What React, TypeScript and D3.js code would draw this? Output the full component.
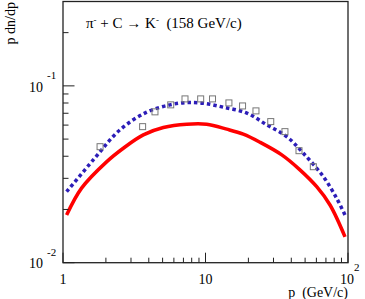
import { useMemo } from "react"
import * as d3 from "d3"

// red solid curve
const redP = [1.06, 1.35, 2.03, 2.65, 3.66, 5.06, 7.38, 10.2, 14.1, 18.4, 24.1, 34.3, 46.0, 60.3, 74.8, 95.3]
const redY = [0.0186, 0.0264, 0.0373, 0.0444, 0.0528, 0.0581, 0.0607, 0.0607, 0.0569, 0.0533, 0.048, 0.0407, 0.0335, 0.0269, 0.0212, 0.014]

// blue dotted curve
const blueP = [1.06, 1.63, 2.51, 3.87, 5.63, 7.38, 9.65, 13.3, 19.5, 26.9, 37.1, 48.6, 67.1, 83.3, 95.3]
const blueY = [0.0252, 0.0381, 0.0564, 0.071, 0.0781, 0.0805, 0.0798, 0.0758, 0.0701, 0.0602, 0.0517, 0.0416, 0.0307, 0.0231, 0.0186]

// open squares (data)
const dataP = [1.82, 3.62, 4.42, 5.7, 7.18, 9.25, 11.2, 14.6, 18.2, 22.6, 28.7, 36.1, 45.3, 57.1]
const dataY = [0.0453, 0.0588, 0.0713, 0.0781, 0.0844, 0.0844, 0.0844, 0.0801, 0.077, 0.0722, 0.0628, 0.0551, 0.043, 0.0349]

const xMajor = [1, 10, 100]
const xMinor = [2, 3, 4, 5, 6, 7, 8, 9, 20, 30, 40, 50, 60, 70, 80, 90]
const yMajor = [0.01, 0.1]
const yMinor = [0.02, 0.03, 0.04, 0.05, 0.06, 0.07, 0.08, 0.09, 0.2, 0.3]

const W = 365
const H = 299
const m = { left: 63, right: 348, top: 1.5, bottom: 262.7 }
const font = "Liberation Serif, DejaVu Serif, serif"

const App = () => {
  const x = useMemo(() => d3.scaleLog().domain([1, 100]).range([m.left, m.right]), [])
  const y = useMemo(() => d3.scaleLog().domain([0.01, 0.3]).range([m.bottom, m.top]), [])

  const line = d3.line<[number, number]>()
    .x(d => x(d[0]))
    .y(d => y(d[1]))
    .curve(d3.curveCatmullRom)

  const red = line(redP.map((p, i) => [p, redY[i]]))
  const blue = line(blueP.map((p, i) => [p, blueY[i]]))

  return (
    <svg width={W} height={H} style={{ position: "absolute", left: 0, top: 0, fontFamily: font }}>
      <rect width={W} height={H} fill="white" />

      <path d={blue ?? ""} fill="none" stroke="#2c1db8" strokeWidth={3.5} strokeDasharray="3.5 3" />
      <path d={red ?? ""} fill="none" stroke="#ff0000" strokeWidth={3.5} />

      {dataP.map((p, i) => (
        <rect key={p} x={x(p) - 3} y={y(dataY[i]) - 3} width={6} height={6}
          fill="none" stroke="#777" strokeWidth={1} />
      ))}

      <rect x={m.left} y={m.top} width={m.right - m.left} height={m.bottom - m.top}
        fill="none" stroke="#222" strokeWidth={1.3} />

      {xMajor.map(v => (
        <line key={v} x1={x(v)} x2={x(v)} y1={m.bottom} y2={m.bottom - 10} stroke="#222" />
      ))}
      {xMinor.map(v => (
        <line key={v} x1={x(v)} x2={x(v)} y1={m.bottom} y2={m.bottom - 5} stroke="#222" />
      ))}
      {yMajor.map(v => (
        <line key={v} x1={m.left} x2={m.left + 11.5} y1={y(v)} y2={y(v)} stroke="#222" />
      ))}
      {yMinor.map(v => (
        <line key={v} x1={m.left} x2={m.left + 5.5} y1={y(v)} y2={y(v)} stroke="#222" />
      ))}

      {/* y tick labels */}
      <text x={43} y={y(0.1) + 6} fontSize={14} textAnchor="end">10</text>
      <text x={47} y={y(0.1) - 7} fontSize={11}>-1</text>
      <text x={43} y={y(0.01) + 5.5} fontSize={14} textAnchor="end">10</text>
      <text x={47} y={y(0.01) - 7} fontSize={11}>-2</text>

      {/* x tick labels */}
      <text x={x(1)} y={284} fontSize={14} textAnchor="middle">1</text>
      <text x={x(10)} y={284} fontSize={14} textAnchor="middle">10</text>
      <text x={x(100) - 1} y={284} fontSize={14} textAnchor="middle">10</text>
      <text x={x(100) + 6} y={271} fontSize={11}>2</text>

      <text x={m.right} y={297} fontSize={14} textAnchor="end" xmlSpace="preserve">p  (GeV/c)</text>
      <text transform="translate(15,2) rotate(-90)" fontSize={14} textAnchor="end">p dn/dp</text>

      <text x={86} y={28} fontSize={15} xmlSpace="preserve">
        π<tspan fontSize={9} dy={-5}>-</tspan><tspan dy={5}> + C → K</tspan><tspan fontSize={9} dy={-5}>-</tspan><tspan dy={5}>  (158 GeV/c)</tspan>
      </text>
    </svg>
  )
}

export default App
